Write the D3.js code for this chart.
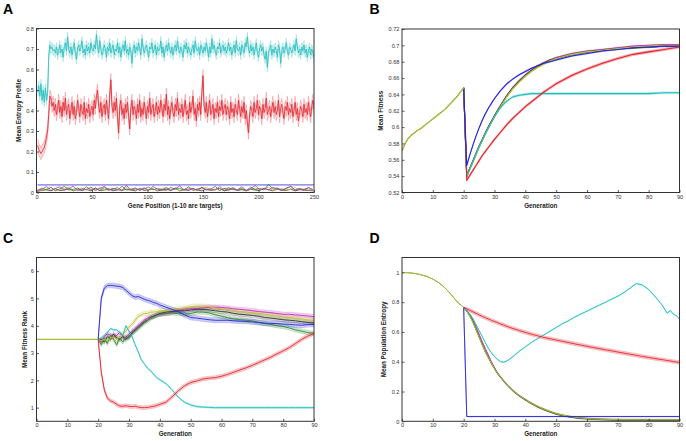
<!DOCTYPE html>
<html><head><meta charset="utf-8">
<script src="https://cdn.jsdelivr.net/npm/d3@7"></script>
<style>body{margin:0;background:#fff;}svg{display:block;font-family:"Liberation Sans",Arial,sans-serif;}</style>
</head><body><svg id="chart" width="686" height="441"></svg>
<script>
// ---------- DATA ----------
const postOrder = ["magenta","black","green","yellow","cyan","red","blue"]; // draw order after generation 20
// up to generation 20 every series shares the same values; only the top two visible ones are stroked
const preOrder = ["green","yellow"];
const colors = {blue:"#2424d8", red:"#e4212b", cyan:"#22bebe", green:"#2e8a2e", magenta:"#c22cc2", yellow:"#c2c034", black:"#333333"};

// Panel A : Mean entropy profile vs gene position
const genePos = d3.range(1, 251);
const genePosSmall = d3.range(1, 251, 4);
const blueAPos = [1, 250];
const cyanA = [0.49,0.52,0.47,0.53,0.45,0.50,0.44,0.51,0.45,0.48,
0.66,0.72,0.70,0.71,0.69,0.70,0.68,0.71,0.67,0.69,0.72,0.68,0.70,0.66,0.71,0.73,0.69,0.76,0.70,0.68,
0.71,0.67,0.70,0.73,0.68,0.65,0.70,0.72,0.69,0.71,0.74,0.68,0.70,0.67,0.72,0.69,0.71,0.68,0.73,0.70,
0.69,0.72,0.70,0.77,0.71,0.68,0.74,0.70,0.67,0.69,0.72,0.70,0.66,0.71,0.69,0.73,0.68,0.70,0.72,0.67,
0.70,0.69,0.73,0.68,0.71,0.66,0.70,0.72,0.69,0.74,0.68,0.70,0.67,0.71,0.69,0.63,0.70,0.72,0.68,0.71,
0.69,0.73,0.70,0.67,0.75,0.71,0.68,0.70,0.72,0.69,0.66,0.71,0.70,0.73,0.68,0.70,0.72,0.67,0.71,0.69,
0.70,0.74,0.68,0.71,0.66,0.70,0.72,0.69,0.73,0.70,0.68,0.71,0.67,0.70,0.72,0.69,0.74,0.70,0.68,0.71,
0.69,0.66,0.72,0.70,0.73,0.68,0.71,0.69,0.67,0.70,0.72,0.68,0.74,0.70,0.69,0.71,0.67,0.72,0.70,0.68,
0.71,0.69,0.73,0.70,0.66,0.71,0.68,0.75,0.70,0.72,0.69,0.67,0.71,0.70,0.73,0.68,0.70,0.72,0.69,0.71,
0.68,0.70,0.73,0.69,0.71,0.67,0.70,0.72,0.68,0.74,0.70,0.69,0.71,0.67,0.72,0.70,0.68,0.73,0.71,0.76,
0.70,0.68,0.72,0.69,0.71,0.67,0.70,0.73,0.68,0.66,0.70,0.72,0.69,0.71,0.67,0.65,0.69,0.61,0.68,0.70,
0.72,0.67,0.70,0.68,0.71,0.69,0.66,0.72,0.70,0.63,0.69,0.71,0.68,0.70,0.73,0.69,0.67,0.71,0.70,0.68,
0.70,0.72,0.69,0.75,0.71,0.68,0.70,0.67,0.71,0.69,0.72,0.68,0.70,0.66,0.69,0.71,0.67,0.70,0.68,0.66];
const redA = [0.23,0.21,0.20,0.19,0.20,0.21,0.22,0.24,0.27,0.30,
0.38,0.47,0.46,0.42,0.44,0.40,0.43,0.38,0.41,0.45,0.39,0.42,0.37,0.44,0.40,0.46,0.38,0.41,0.43,0.36,
0.40,0.44,0.38,0.42,0.36,0.39,0.45,0.41,0.37,0.43,0.40,0.38,0.44,0.36,0.41,0.39,0.43,0.37,0.40,0.42,
0.38,0.45,0.41,0.47,0.50,0.42,0.39,0.44,0.37,0.41,0.43,0.38,0.45,0.40,0.36,0.48,0.55,0.42,0.39,0.44,
0.40,0.46,0.37,0.29,0.42,0.45,0.38,0.41,0.36,0.43,0.39,0.44,0.37,0.31,0.41,0.45,0.38,0.42,0.40,0.36,
0.43,0.39,0.45,0.37,0.41,0.38,0.44,0.40,0.36,0.42,0.39,0.46,0.38,0.41,0.43,0.37,0.40,0.44,0.38,0.42,
0.39,0.45,0.41,0.37,0.43,0.40,0.48,0.38,0.42,0.36,0.41,0.44,0.39,0.37,0.43,0.40,0.46,0.38,0.41,0.39,
0.43,0.37,0.41,0.45,0.38,0.40,0.36,0.44,0.39,0.42,0.47,0.38,0.41,0.35,0.43,0.40,0.44,0.38,0.49,0.57,
0.42,0.39,0.44,0.37,0.41,0.45,0.38,0.40,0.43,0.36,0.41,0.39,0.44,0.37,0.42,0.40,0.45,0.38,0.41,0.43,
0.38,0.42,0.40,0.36,0.44,0.39,0.41,0.37,0.43,0.40,0.38,0.45,0.41,0.37,0.42,0.39,0.44,0.36,0.40,0.34,
0.29,0.38,0.42,0.40,0.37,0.44,0.39,0.41,0.45,0.38,0.42,0.40,0.36,0.43,0.39,0.41,0.46,0.38,0.40,0.42,
0.37,0.41,0.44,0.39,0.42,0.38,0.40,0.45,0.37,0.41,0.43,0.39,0.36,0.42,0.40,0.44,0.38,0.41,0.39,0.43,
0.37,0.40,0.44,0.38,0.41,0.35,0.39,0.42,0.40,0.37,0.43,0.39,0.41,0.38,0.44,0.40,0.37,0.42,0.45,0.41];
const blueA = [0.037, 0.037];
const greenA = [0.010,0.022,0.012,0.026,0.008,0.018,0.030,0.012,0.015,0.022,0.010,0.028,0.012,0.018,0.010,0.024,0.014,0.020,0.011,0.030,
0.012,0.016,0.022,0.010,0.018,0.026,0.012,0.020,0.014,0.010,0.024,0.016,0.020,0.012,0.028,0.010,0.018,0.022,0.012,0.016,
0.030,0.010,0.020,0.014,0.024,0.012,0.018,0.010,0.026,0.014,0.020,0.012,0.040,0.016,0.022,0.010,0.018,0.030,0.012,0.020,0.014,0.024,0.012];
const magentaA = [0.012,0.015,0.030,0.010,0.020,0.028,0.012,0.016,0.032,0.010,0.018,0.014,0.026,0.010,0.020,0.030,0.012,0.016,0.024,0.010,
0.034,0.014,0.018,0.012,0.022,0.010,0.030,0.016,0.012,0.024,0.010,0.018,0.032,0.012,0.016,0.020,0.010,0.026,0.014,0.018,
0.012,0.030,0.010,0.022,0.016,0.012,0.028,0.010,0.018,0.034,0.014,0.020,0.012,0.026,0.016,0.010,0.022,0.030,0.012,0.018,0.010,0.024,0.014];
const yellowA = [0.008,0.012,0.018,0.024,0.010,0.014,0.020,0.026,0.010,0.016,0.022,0.012,0.018,0.010,0.024,0.014,0.010,0.020,0.016,0.012,
0.026,0.010,0.018,0.014,0.022,0.012,0.016,0.010,0.020,0.024,0.012,0.018,0.010,0.016,0.022,0.014,0.010,0.020,0.026,0.012,
0.016,0.010,0.018,0.024,0.012,0.014,0.020,0.010,0.016,0.022,0.012,0.018,0.026,0.010,0.014,0.020,0.012,0.016,0.024,0.010,0.018,0.014,0.012];
const blackA = [0.006,0.010,0.014,0.008,0.018,0.010,0.012,0.020,0.008,0.014,0.010,0.016,0.008,0.022,0.010,0.012,0.018,0.008,0.014,0.010,
0.016,0.012,0.008,0.020,0.010,0.014,0.018,0.008,0.012,0.016,0.010,0.022,0.008,0.014,0.010,0.018,0.012,0.008,0.016,0.010,
0.014,0.020,0.008,0.012,0.018,0.010,0.014,0.008,0.016,0.012,0.010,0.020,0.014,0.008,0.018,0.012,0.010,0.016,0.008,0.014,0.012,0.010,0.008];
const bandA = {blue:0, red:0.03, cyan:0.022, green:0, magenta:0, yellow:0, black:0};

// Panel B : Mean fitness vs generation
const genPreB = d3.range(0, 21);
const preB = [0.571,0.580,0.586,0.590,0.593,0.596,0.598,0.601,0.604,0.607,0.610,0.613,0.616,0.619,0.622,0.626,0.630,0.634,0.638,0.643,0.648];
const genPostB = [21,22,23,24,25,26,27,28,29,30,32,34,36,38,40,42,44,46,48,50,55,60,65,70,75,80,85,90];
const blueB = [0.553,0.566,0.578,0.589,0.599,0.608,0.616,0.623,0.629,0.635,0.645,0.653,0.659,0.664,0.668,0.672,0.675,0.678,0.680,0.682,0.687,0.690,0.693,0.695,0.697,0.698,0.699,0.699];
const redB = [0.535,0.541,0.547,0.553,0.559,0.565,0.570,0.575,0.580,0.585,0.594,0.603,0.611,0.618,0.625,0.631,0.637,0.643,0.648,0.653,0.663,0.671,0.678,0.684,0.689,0.692,0.695,0.698];
const greenB = [0.540,0.549,0.558,0.567,0.576,0.584,0.592,0.599,0.606,0.613,0.626,0.638,0.648,0.656,0.663,0.669,0.674,0.678,0.681,0.684,0.689,0.692,0.694,0.696,0.697,0.698,0.699,0.699];
const magentaB = [0.541,0.550,0.559,0.568,0.577,0.585,0.593,0.600,0.607,0.614,0.627,0.639,0.649,0.657,0.664,0.670,0.675,0.679,0.682,0.685,0.690,0.693,0.695,0.697,0.699,0.700,0.701,0.701];
const yellowB = [0.539,0.548,0.557,0.566,0.575,0.583,0.591,0.599,0.606,0.613,0.625,0.637,0.647,0.655,0.662,0.668,0.673,0.677,0.681,0.684,0.689,0.692,0.694,0.696,0.698,0.699,0.700,0.700];
const blackB = [0.540,0.549,0.558,0.567,0.576,0.584,0.592,0.600,0.607,0.614,0.626,0.638,0.648,0.656,0.663,0.669,0.674,0.678,0.682,0.684,0.689,0.692,0.694,0.696,0.697,0.698,0.699,0.699];
const cyanB = [0.540,0.549,0.558,0.567,0.576,0.584,0.592,0.599,0.606,0.613,0.624,0.632,0.637,0.639,0.640,0.641,0.641,0.641,0.641,0.641,0.641,0.641,0.641,0.641,0.641,0.641,0.642,0.642];
const bandB = {blue:0.0008, red:0.0016, cyan:0.0012, green:0.0008, magenta:0.0008, yellow:0.0008, black:0.0008};

// Panel C : Mean fitness rank vs generation
const genPreC = [0, 20];
const preC = [3.5, 3.5];
const genPostC = d3.range(21, 41).concat(d3.range(42, 91, 2));
const blueC = [5.0,5.38,5.47,5.48,5.47,5.45,5.44,5.40,5.30,5.20,5.10,5.05,5.07,5.02,4.97,4.93,4.90,4.85,4.82,4.76,
4.68,4.60,4.52,4.40,4.30,4.28,4.25,4.22,4.20,4.20,4.20,4.18,4.17,4.16,4.14,4.12,4.10,4.08,4.08,4.06,4.05,4.03,4.02,4.04,4.05];
const redC = [2.3,1.65,1.35,1.25,1.2,1.12,1.06,1.05,1.07,1.05,1.04,1.05,1.02,1.0,1.0,1.01,1.03,1.05,1.08,1.12,
1.2,1.4,1.62,1.8,1.92,1.98,2.05,2.08,2.1,2.15,2.22,2.3,2.38,2.46,2.55,2.65,2.75,2.85,2.97,3.08,3.2,3.35,3.5,3.62,3.72];
const cyanC = [3.55,3.65,3.75,3.9,3.85,3.85,3.75,3.65,4.0,3.8,3.6,3.3,3.05,2.75,2.6,2.45,2.35,2.22,2.1,2.02,
1.88,1.65,1.38,1.2,1.1,1.04,1.02,1.01,1.0,1.0,1.0,1.0,1.0,1.0,1.0,1.0,1.0,1.0,1.0,1.0,1.0,1.0,1.0,1.0,1.0];
const greenC = [3.3,3.55,3.35,3.65,3.5,3.3,3.55,3.4,3.6,3.55,3.7,3.8,3.9,4.0,4.1,4.2,4.28,4.33,4.38,4.42,
4.45,4.47,4.45,4.42,4.45,4.5,4.5,4.47,4.4,4.35,4.3,4.25,4.22,4.2,4.18,4.12,4.08,4.05,4.0,3.97,3.92,3.85,3.8,3.75,3.72];
const magentaC = [3.4,3.6,3.7,3.65,3.6,3.65,3.75,3.6,3.55,3.7,3.8,3.9,4.0,4.1,4.2,4.28,4.32,4.35,4.4,4.42,
4.45,4.5,4.55,4.6,4.62,4.63,4.65,4.68,4.68,4.67,4.65,4.62,4.6,4.58,4.55,4.52,4.5,4.48,4.45,4.42,4.42,4.4,4.38,4.36,4.33];
const yellowC = [3.45,3.5,3.45,3.55,3.6,3.5,3.6,3.7,3.8,3.95,4.05,4.2,4.35,4.4,4.45,4.45,4.5,4.5,4.52,4.55,
4.55,4.58,4.62,4.65,4.7,4.72,4.72,4.7,4.65,4.62,4.6,4.55,4.52,4.5,4.48,4.45,4.42,4.4,4.35,4.32,4.3,4.28,4.25,4.22,4.2];
const blackC = [3.5,3.4,3.6,3.5,3.7,3.55,3.5,3.6,3.5,3.6,3.75,3.85,3.95,4.05,4.15,4.2,4.3,4.35,4.4,4.45,
4.5,4.52,4.55,4.55,4.58,4.6,4.6,4.58,4.55,4.52,4.5,4.45,4.42,4.4,4.38,4.35,4.3,4.28,4.25,4.22,4.2,4.18,4.15,4.12,4.1];
const bandC = {blue:0.09, red:0.07, cyan:0.03, green:0.08, magenta:0.08, yellow:0.08, black:0.08};

// Panel D : Mean population entropy vs generation
const genPreD = d3.range(0, 21, 2);
const preD = [1.0,0.998,0.993,0.985,0.973,0.955,0.93,0.895,0.85,0.8,0.765];
const genPostD = d3.range(21, 37).concat(d3.range(38, 85, 2), d3.range(85, 91));
const genPostBlueD = [21, 90];
const blueD = [0.032, 0.032];
const redD = [0.755,0.745,0.735,0.725,0.715,0.705,0.696,0.687,0.678,0.67,0.662,0.654,0.646,0.638,0.63,0.623,
0.61,0.597,0.585,0.574,0.563,0.554,0.546,0.537,0.529,0.52,0.512,0.504,0.496,0.488,0.48,0.473,0.465,0.458,0.45,0.443,0.435,0.429,0.422,0.415,
0.412,0.408,0.405,0.401,0.398,0.395];
const cyanD = [0.74,0.72,0.69,0.65,0.61,0.57,0.53,0.49,0.46,0.435,0.415,0.4,0.397,0.405,0.42,0.435,
0.47,0.5,0.53,0.555,0.58,0.605,0.63,0.655,0.675,0.7,0.72,0.74,0.76,0.78,0.8,0.82,0.84,0.865,0.895,0.925,0.915,0.885,0.84,0.79,
0.76,0.725,0.745,0.72,0.71,0.685];
const greenD = [0.74,0.71,0.67,0.62,0.57,0.52,0.47,0.43,0.39,0.355,0.32,0.295,0.27,0.245,0.225,0.205,
0.172,0.145,0.12,0.098,0.08,0.064,0.05,0.04,0.032,0.026,0.021,0.018,0.015,0.013,0.012,0.011,0.01,0.01,0.009,0.009,0.009,0.009,0.008,0.008,
0.008,0.008,0.008,0.008,0.008,0.008];
const magentaD = [0.745,0.715,0.68,0.635,0.585,0.535,0.49,0.445,0.4,0.36,0.325,0.298,0.272,0.247,0.226,0.206,
0.173,0.146,0.121,0.099,0.081,0.065,0.051,0.041,0.033,0.027,0.022,0.019,0.016,0.014,0.013,0.012,0.011,0.011,0.01,0.01,0.01,0.01,0.009,0.009,
0.009,0.009,0.009,0.009,0.009,0.009];
const yellowD = [0.74,0.705,0.665,0.615,0.565,0.515,0.468,0.428,0.39,0.355,0.322,0.296,0.27,0.246,0.225,0.205,
0.173,0.146,0.121,0.1,0.082,0.066,0.052,0.042,0.034,0.028,0.023,0.019,0.016,0.014,0.013,0.012,0.011,0.011,0.01,0.01,0.01,0.01,0.01,0.01,
0.01,0.01,0.01,0.01,0.01,0.01];
const blackD = [0.74,0.71,0.668,0.618,0.568,0.518,0.469,0.429,0.39,0.355,0.321,0.295,0.27,0.245,0.224,0.204,
0.171,0.144,0.119,0.097,0.079,0.063,0.049,0.039,0.031,0.025,0.02,0.017,0.014,0.012,0.011,0.01,0.009,0.009,0.008,0.008,0.008,0.008,0.007,0.007,
0.007,0.007,0.007,0.007,0.007,0.007];
const bandD = {blue:0.002, red:0.012, cyan:0.003, green:0.004, magenta:0.004, yellow:0.004, black:0.004};

// Ticks and labels
const xTicksA = [0,50,100,150,200,250];
const yTicksA = [0,0.1,0.2,0.3,0.4,0.5,0.6,0.7,0.8];
const xTicksGen = [0,10,20,30,40,50,60,70,80,90];
const yTicksB = [0.52,0.54,0.56,0.58,0.6,0.62,0.64,0.66,0.68,0.7,0.72];
const yTicksC = [1,2,3,4,5,6];
const yTicksD = [0,0.2,0.4,0.6,0.8,1];
const panelLetters = ["A","B","C","D"];
const xTitles = ["Gene Position (1-10 are targets)","Generation","Generation","Generation"];
const yTitles = ["Mean Entropy Profile","Mean Fitness","Mean Fitness Rank","Mean Population Entropy"];

// ---------- DRAWING ----------
const svg = d3.select("#chart");
const fmt = d => String(+d.toFixed(3));

function drawPanel(p) {
  const x = d3.scaleLinear().domain(p.xDomain).range([p.left, p.right]);
  const y = d3.scaleLinear().domain(p.yDomain).range([p.bottom, p.top]);
  const g = svg.append("g");
  const clipId = "clip" + p.id;
  svg.append("clipPath").attr("id", clipId).append("rect")
    .attr("x", p.left).attr("y", p.top).attr("width", p.right - p.left).attr("height", p.bottom - p.top);
  const plot = g.append("g").attr("clip-path", `url(#${clipId})`);
  const byKey = {};
  p.series.forEach(s => { byKey[s.key] = s; });
  const pts = s => s.xs.map((xv, i) => ({x: xv, y: s.ys[i]}));
  const split = p.splitX;
  p.postOrder.forEach(k => {
    const s = byKey[k];
    if (!s.band) return;
    const ps = pts(s).filter(d => d.x >= split);
    const w = d => (d.x > split ? s.band : 0);
    plot.append("path")
      .attr("d", d3.area().x(d => x(d.x)).y0(d => y(d.y - w(d))).y1(d => y(d.y + w(d)))(ps))
      .attr("fill", s.color).attr("fill-opacity", p.bandOpacity);
    [-1, 1].forEach(sg => {
      plot.append("path")
        .attr("d", d3.line().x(d => x(d.x)).y(d => y(d.y + sg * w(d)))(ps))
        .attr("fill", "none").attr("stroke", s.color).attr("stroke-opacity", p.edgeOpacity).attr("stroke-width", 0.5);
    });
  });
  const line = d3.line().x(d => x(d.x)).y(d => y(d.y));
  p.postOrder.forEach(k => {
    const s = byKey[k];
    const ps = pts(s).filter(d => d.x >= split);
    plot.append("path").attr("d", line(ps))
      .attr("fill", "none").attr("stroke", s.color).attr("stroke-width", p.lw).attr("stroke-linejoin", "round");
  });
  if (p.preOrder) p.preOrder.forEach(k => {
    const s = byKey[k];
    const ps = pts(s).filter(d => d.x <= split);
    plot.append("path").attr("d", line(ps))
      .attr("fill", "none").attr("stroke", s.color).attr("stroke-width", p.lw).attr("stroke-linejoin", "round");
  });
  const ax = g.append("g").attr("transform", `translate(0,${p.bottom})`)
    .call(d3.axisBottom(x).tickValues(p.xTicks).tickFormat(fmt).tickSizeInner(-2.5).tickSizeOuter(0).tickPadding(2.2));
  const ay = g.append("g").attr("transform", `translate(${p.left},0)`)
    .call(d3.axisLeft(y).tickValues(p.yTicks).tickFormat(fmt).tickSizeInner(-2.5).tickSizeOuter(0).tickPadding(2.6));
  [ax, ay].forEach(a => {
    a.select(".domain").remove();
    a.selectAll("line").attr("stroke", "#333").attr("stroke-width", 0.8);
    a.selectAll("text").attr("font-size", 5.6).attr("fill", "#333").attr("font-family", '"Liberation Sans",Arial,sans-serif');
  });
  g.append("rect").attr("x", p.left).attr("y", p.top).attr("width", p.right - p.left).attr("height", p.bottom - p.top)
    .attr("fill", "none").attr("stroke", "#333").attr("stroke-width", 1);
  g.append("text").attr("x", (p.left + p.right) / 2).attr("y", p.bottom + 15)
    .attr("text-anchor", "middle").attr("font-size", 6.3).attr("font-weight", "bold").attr("fill", "#222").text(p.xTitle);
  g.append("text").attr("transform", `translate(${p.yTitleX},${(p.top + p.bottom) / 2}) rotate(-90)`)
    .attr("dy", "0.35em").attr("text-anchor", "middle").attr("font-size", 6.3).attr("font-weight", "bold").attr("fill", "#222").text(p.yTitle);
  g.append("text").attr("x", p.letterX).attr("y", p.letterY).attr("font-size", 14).attr("font-weight", "bold").attr("fill", "#000").text(p.letter);
}

function mk(key, xs, ys, band) { return {key, color: colors[key], xs, ys, band}; }
function buildSeries(genPre, pre, genPost, post, band, genPostOverride) {
  return Object.keys(post).map(k => {
    const gp = (genPostOverride && genPostOverride[k]) || genPost;
    return mk(k, genPre.concat(gp), pre.concat(post[k]), band[k]);
  });
}

const seriesA = [
  mk("black", genePosSmall, blackA, bandA.black),
  mk("yellow", genePosSmall, yellowA, bandA.yellow),
  mk("green", genePosSmall, greenA, bandA.green),
  mk("magenta", genePosSmall, magentaA, bandA.magenta),
  mk("cyan", genePos, cyanA, bandA.cyan),
  mk("red", genePos, redA, bandA.red),
  mk("blue", blueAPos, blueA, bandA.blue)
];
drawPanel({id:"A", left:36.5, right:314, top:28.5, bottom:192.5, xDomain:[0,250], yDomain:[0,0.8],
  xTicks:xTicksA, yTicks:yTicksA, series:seriesA, splitX:-Infinity,
  postOrder:["black","yellow","green","magenta","cyan","red","blue"], preOrder:null,
  lw:0.8, bandOpacity:0.18, edgeOpacity:0.45,
  xTitle:xTitles[0], yTitle:yTitles[0], yTitleX:18.3, letter:panelLetters[0], letterX:3, letterY:14});

drawPanel({id:"B", left:402, right:679.5, top:29, bottom:192.5, xDomain:[0,90], yDomain:[0.52,0.72],
  xTicks:xTicksGen, yTicks:yTicksB, splitX:20, postOrder, preOrder,
  series: buildSeries(genPreB, preB, genPostB, {blue:blueB, red:redB, cyan:cyanB, green:greenB, magenta:magentaB, yellow:yellowB, black:blackB}, bandB),
  lw:1.1, bandOpacity:0.3, edgeOpacity:0.3,
  xTitle:xTitles[1], yTitle:yTitles[1], yTitleX:380.8, letter:panelLetters[1], letterX:369.5, letterY:14});

drawPanel({id:"C", left:36.5, right:314, top:257.5, bottom:421.3, xDomain:[0,90], yDomain:[0.5,6.5],
  xTicks:xTicksGen, yTicks:yTicksC, splitX:20, postOrder, preOrder,
  series: buildSeries(genPreC, preC, genPostC, {blue:blueC, red:redC, cyan:cyanC, green:greenC, magenta:magentaC, yellow:yellowC, black:blackC}, bandC),
  lw:0.9, bandOpacity:0.22, edgeOpacity:0.35,
  xTitle:xTitles[2], yTitle:yTitles[2], yTitleX:24.3, letter:panelLetters[2], letterX:3, letterY:243});

drawPanel({id:"D", left:402, right:679.5, top:257.5, bottom:421.3, xDomain:[0,90], yDomain:[0,1.1],
  xTicks:xTicksGen, yTicks:yTicksD, splitX:20, postOrder, preOrder,
  series: buildSeries(genPreD, preD, genPostD, {blue:blueD, red:redD, cyan:cyanD, green:greenD, magenta:magentaD, yellow:yellowD, black:blackD}, bandD, {blue:genPostBlueD}),
  lw:0.9, bandOpacity:0.25, edgeOpacity:0.35,
  xTitle:xTitles[3], yTitle:yTitles[3], yTitleX:384.2, letter:panelLetters[3], letterX:369.5, letterY:243});
</script></body></html>
